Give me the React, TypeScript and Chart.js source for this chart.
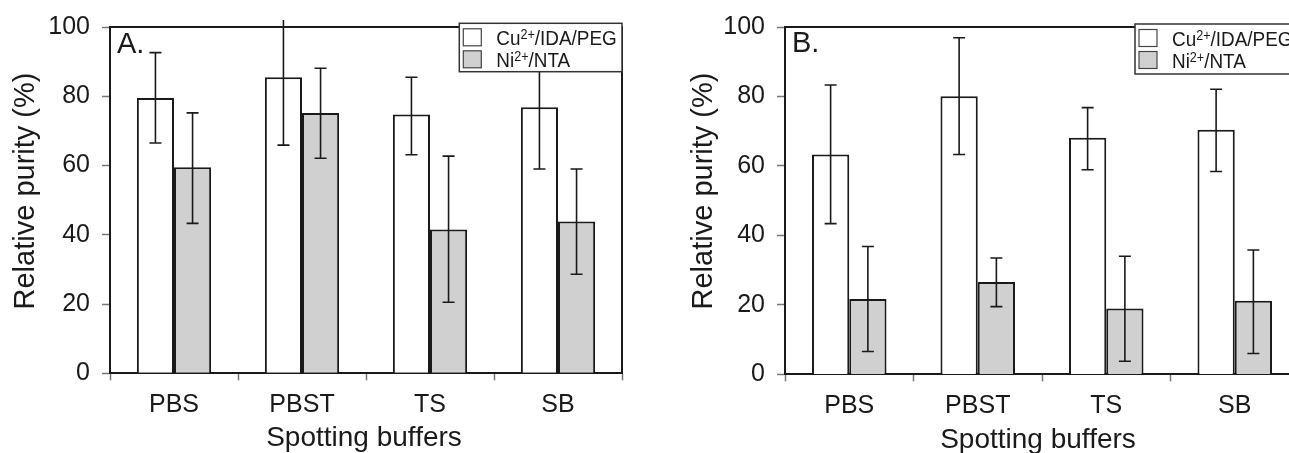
import React, { useEffect, useRef } from 'react';
import { Chart, registerables } from 'chart.js';

Chart.register(...registerables);

// ---------- data ----------
const categories = ['PBS', 'PBST', 'TS', 'SB'];
const yTickValues = [0, 20, 40, 60, 80, 100];
const legendParts = [
  ['Cu', '2+', '/IDA/PEG'],
  ['Ni', '2+', '/NTA'],
];
const xTitle = 'Spotting buffers';
const yTitle = 'Relative purity (%)';

// Panel A
const cuA = [79.5, 85.5, 74.7, 76.8];
const cuAHigh = [92.6, 102, 85.5, 94.6];
const cuALow = [66.5, 65.9, 63.1, 59.0];
const niA = [59.5, 75.2, 41.5, 43.8];
const niAHigh = [75.2, 88.1, 62.7, 59.0];
const niALow = [43.3, 62.1, 20.5, 28.6];

// Panel B
const cuB = [63.3, 80.1, 68.1, 70.4];
const cuBHigh = [83.3, 96.9, 76.8, 82.1];
const cuBLow = [43.4, 63.3, 58.9, 58.4];
const niB = [21.7, 26.6, 19.0, 21.2];
const niBHigh = [36.8, 33.5, 34.0, 35.8];
const niBLow = [6.6, 19.5, 3.8, 6.0];

// ---------- layout / style ----------
const H = 453;
const FONT = "'Liberation Sans', Arial, Helvetica, sans-serif";
const INK = '#1a1a1a';
const GREY = '#d0d0d0';

type Panel = {
  label: string;
  left: number;
  width: number;
  axisLeft: number;
  plotRight: number;
  plotTop: number;
  plotBottom: number;
  cu: number[]; cuHi: number[]; cuLo: number[];
  ni: number[]; niHi: number[]; niLo: number[];
  legendX: number; legendY: number; legendW: number; legendH: number;
  labelX: number; labelBase: number;
  yTitleX: number; yTitleY: number;
  xTitleX: number; xTitleBase: number;
};

const panels: Panel[] = [
  {
    label: 'A.', left: 0, width: 640, axisLeft: 110, plotRight: 622, plotTop: 23.3, plotBottom: 373.3,
    cu: cuA, cuHi: cuAHigh, cuLo: cuALow, ni: niA, niHi: niAHigh, niLo: niALow,
    legendX: 459.3, legendY: 23.3, legendW: 162.7, legendH: 48.4,
    labelX: 117, labelBase: 52.6,
    yTitleX: 25.5, yTitleY: 191,
    xTitleX: 364, xTitleBase: 446,
  },
  {
    label: 'B.', left: 640, width: 660, axisLeft: 145, plotRight: 659, plotTop: 24, plotBottom: 374.4,
    cu: cuB, cuHi: cuBHigh, cuLo: cuBLow, ni: niB, niHi: niBHigh, niLo: niBLow,
    legendX: 495, legendY: 24, legendW: 200, legendH: 50,
    labelX: 152, labelBase: 52.4,
    yTitleX: 64, yTitleY: 191,
    xTitleX: 398, xTitleBase: 448,
  },
];

function makeDecor(p: Panel) {
  return {
    id: 'decor' + p.label,
    afterDatasetsDraw(chart: any) {
      const ctx = chart.ctx;
      const y = chart.scales.y;
      const series = [
        { hi: p.cuHi, lo: p.cuLo },
        { hi: p.niHi, lo: p.niLo },
      ];
      ctx.save();
      ctx.strokeStyle = INK;
      ctx.lineWidth = 1.6;
      series.forEach((s, di) => {
        const meta = chart.getDatasetMeta(di);
        meta.data.forEach((bar: any, i: number) => {
          const x = bar.x;
          const yh = y.getPixelForValue(s.hi[i]);
          const yl = y.getPixelForValue(s.lo[i]);
          ctx.beginPath();
          ctx.moveTo(x, yh);
          ctx.lineTo(x, yl);
          ctx.moveTo(x - 6, yl);
          ctx.lineTo(x + 6, yl);
          if (s.hi[i] <= 100) {
            ctx.moveTo(x - 6, yh);
            ctx.lineTo(x + 6, yh);
          }
          ctx.stroke();
        });
      });
      ctx.restore();
    },
    afterDraw(chart: any) {
      const ctx = chart.ctx;
      const a = chart.chartArea;
      ctx.save();
      // top and right frame
      ctx.strokeStyle = INK;
      ctx.lineWidth = 2;
      ctx.beginPath();
      ctx.moveTo(a.left, a.top);
      ctx.lineTo(a.right, a.top);
      ctx.lineTo(a.right, a.bottom);
      ctx.stroke();

      // legend
      ctx.fillStyle = '#ffffff';
      ctx.fillRect(p.legendX, p.legendY, p.legendW, p.legendH);
      ctx.strokeStyle = '#333';
      ctx.lineWidth = 1.5;
      ctx.strokeRect(p.legendX, p.legendY, p.legendW, p.legendH);
      const swatchFill = ['#ffffff', GREY];
      const rowTop = [5.5, 27.5];
      legendParts.forEach((parts, k) => {
        const sx = p.legendX + 4;
        const sy = p.legendY + rowTop[k];
        ctx.fillStyle = swatchFill[k];
        ctx.fillRect(sx, sy, 18, 17);
        ctx.strokeStyle = '#444';
        ctx.lineWidth = 1.2;
        ctx.strokeRect(sx, sy, 18, 17);
        const base = sy + 16;
        ctx.save();
        ctx.translate(p.legendX + 37, base);
        ctx.scale(0.9, 1);
        ctx.fillStyle = INK;
        ctx.textBaseline = 'alphabetic';
        ctx.textAlign = 'left';
        let cx = 0;
        ctx.font = `21px ${FONT}`;
        ctx.fillText(parts[0], cx, 0);
        cx += ctx.measureText(parts[0]).width;
        ctx.font = `14px ${FONT}`;
        ctx.fillText(parts[1], cx, -6);
        cx += ctx.measureText(parts[1]).width;
        ctx.font = `21px ${FONT}`;
        ctx.fillText(parts[2], cx, 0);
        ctx.restore();
      });

      // panel label
      ctx.fillStyle = INK;
      ctx.font = `29px ${FONT}`;
      ctx.textAlign = 'left';
      ctx.textBaseline = 'alphabetic';
      ctx.fillText(p.label, p.labelX, p.labelBase);

      // axis titles
      ctx.font = `28px ${FONT}`;
      ctx.textAlign = 'center';
      ctx.fillText(xTitle, p.xTitleX, p.xTitleBase);
      ctx.save();
      ctx.translate(p.yTitleX, p.yTitleY);
      ctx.rotate(-Math.PI / 2);
      ctx.font = `29px ${FONT}`;
      ctx.textBaseline = 'middle';
      ctx.fillText(yTitle, 0, 0);
      ctx.restore();
      ctx.restore();
    },
  };
}

function BarPanel({ p }: { p: Panel }) {
  const ref = useRef<HTMLCanvasElement>(null);
  useEffect(() => {
    const canvas = ref.current;
    if (!canvas) return;
    const chart = new Chart(canvas, {
      type: 'bar',
      data: {
        labels: categories,
        datasets: [
          {
            label: legendParts[0].join(''),
            data: p.cu,
            backgroundColor: '#ffffff',
            borderColor: INK,
            borderWidth: 2,
            borderSkipped: 'bottom',
            categoryPercentage: 0.58,
            barPercentage: 1,
          },
          {
            label: legendParts[1].join(''),
            data: p.ni,
            backgroundColor: GREY,
            borderColor: INK,
            borderWidth: 2,
            borderSkipped: 'bottom',
            categoryPercentage: 0.58,
            barPercentage: 1,
          },
        ],
      },
      options: {
        responsive: false,
        animation: false,
        devicePixelRatio: 1,
        layout: { padding: { top: p.plotTop, right: p.width - p.plotRight, left: 0, bottom: 0 } },
        plugins: { legend: { display: false }, tooltip: { enabled: false }, title: { display: false } },
        scales: {
          x: {
            grid: { display: true, drawOnChartArea: false, drawTicks: true, tickLength: 7, tickColor: '#777', tickWidth: 1.5, offset: true },
            border: { display: true, color: INK, width: 2 },
            ticks: { font: { family: FONT, size: 25 }, color: INK, padding: 10, maxRotation: 0 },
            afterFit: (s: any) => { s.height = H - p.plotBottom; },
          },
          y: {
            min: 0,
            max: 100,
            grid: { display: true, drawOnChartArea: false, drawTicks: true, tickLength: 8, tickColor: '#777', tickWidth: 1.5 },
            border: { display: true, color: INK, width: 2 },
            ticks: { font: { family: FONT, size: 25 }, color: INK, padding: 12 },
            afterBuildTicks: (s: any) => { s.ticks = yTickValues.map((v) => ({ value: v })); },
            afterFit: (s: any) => { s.width = p.axisLeft; },
          },
        },
      } as any,
      plugins: [makeDecor(p)],
    });
    return () => chart.destroy();
  }, [p]);
  return (
    <div style={{ position: 'absolute', left: p.left, top: 0, width: p.width, height: H }}>
      <canvas ref={ref} width={p.width} height={H} style={{ width: p.width, height: H, display: 'block' }} />
    </div>
  );
}

export default function App() {
  return (
    <div style={{ position: 'fixed', left: 0, top: 0, width: 1289, height: H, overflow: 'hidden', background: '#ffffff' }}>
      {panels.map((p) => (
        <BarPanel key={p.label} p={p} />
      ))}
    </div>
  );
}
